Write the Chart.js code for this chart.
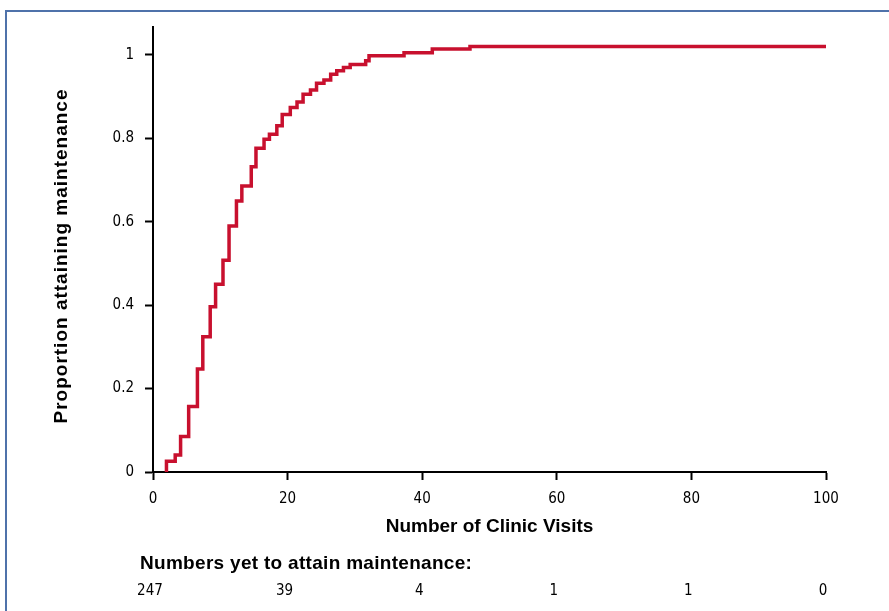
<!DOCTYPE html>
<html>
<head>
<meta charset="utf-8">
<script src="https://cdn.jsdelivr.net/npm/chart.js@4/dist/chart.umd.min.js"></script>
<style>
  html, body { margin: 0; padding: 0; background: #ffffff; }
  #wrap { position: relative; width: 889px; height: 611px; }
  canvas { display: block; }
</style>
</head>
<body>
<div id="wrap"><canvas id="c" width="889" height="611"></canvas></div>
<script>
// ---- data ----
const visits = [2, 2, 3.3, 4.1, 5.3, 6.6, 7.4, 8.5, 9.3, 10.4, 11.3, 12.4, 13.2, 14.6, 15.3, 16.5, 17.3, 18.4, 19.2, 20.4, 21.4, 22.3, 23.4, 24.3, 25.4, 26.4, 27.3, 28.3, 29.3, 31.6, 32.1, 37.3, 41.5, 47.1, 100];
const proportion = [0, 0.026, 0.041, 0.085, 0.157, 0.247, 0.324, 0.396, 0.450, 0.508, 0.590, 0.650, 0.686, 0.732, 0.776, 0.798, 0.810, 0.830, 0.857, 0.874, 0.887, 0.906, 0.916, 0.932, 0.940, 0.954, 0.962, 0.970, 0.977, 0.986, 0.998, 1.005, 1.014, 1.020, 1.020];
const yTickValues = [0, 0.2, 0.4, 0.6, 0.8, 1];
const yTickLabels = ['0', '0.2', '0.4', '0.6', '0.8', '1'];
const xTickValues = [0, 20, 40, 60, 80, 100];
const xTickLabels = ['0', '20', '40', '60', '80', '100'];
const atRiskLabel = 'Numbers yet to attain maintenance:';
const atRiskCounts = ['247', '39', '4', '1', '1', '0'];
const xTitle = 'Number of Clinic Visits';
const yTitle = 'Proportion attaining maintenance';

const narrow = "'Liberation Sans Narrow', 'DejaVu Sans Condensed', 'Arial Narrow', sans-serif";
const boldFont = "'Liberation Sans', Arial, sans-serif";

const extras = {
  id: 'extras',
  beforeDraw(chart) {
    const ctx = chart.ctx;
    ctx.save();
    ctx.fillStyle = '#4f72aa';
    ctx.fillRect(5, 10, 884, 2);
    ctx.fillRect(5, 10, 2, 601);
    ctx.restore();
  },
  afterDraw(chart) {
    const ctx = chart.ctx;
    const xs = chart.scales.x;
    const area = chart.chartArea;
    ctx.save();
    ctx.fillStyle = '#000';
    ctx.textAlign = 'center';
    ctx.textBaseline = 'middle';
    ctx.font = 'bold 19px ' + boldFont;
    ctx.letterSpacing = '0px';
    ctx.fillText(xTitle, (area.left + area.right) / 2, 527);
    ctx.save();
    ctx.translate(62, 256);
    ctx.rotate(-Math.PI / 2);
    ctx.letterSpacing = '1px';
    ctx.fillText(yTitle, 0, 0);
    ctx.restore();
    ctx.textAlign = 'left';
    ctx.letterSpacing = '0.3px';
    ctx.fillText(atRiskLabel, 140, 564);
    ctx.letterSpacing = '0px';
    ctx.font = '15px ' + narrow;
    ctx.textAlign = 'center';
    xTickValues.forEach((v, i) => {
      ctx.fillText(atRiskCounts[i], xs.getPixelForValue(v) - 3, 591);
    });
    ctx.restore();
  }
};

new Chart(document.getElementById('c'), {
  type: 'line',
  data: {
    datasets: [{
      data: visits.map((v, i) => ({ x: v, y: proportion[i] })),
      borderColor: '#c8102e',
      borderWidth: 3.5,
      pointRadius: 0,
      fill: false,
      stepped: 'before',
      tension: 0
    }]
  },
  options: {
    responsive: false,
    animation: false,
    events: [],
    layout: { padding: { left: 52, right: 63, top: 27, bottom: 75 } },
    plugins: { legend: { display: false }, tooltip: { enabled: false } },
    scales: {
      x: {
        type: 'linear',
        min: 0, max: 100,
        afterBuildTicks: s => { s.ticks = xTickValues.map(v => ({ value: v })); },
        afterFit: s => { s.height = 64; },
        ticks: {
          callback: (v) => { const i = xTickValues.indexOf(v); return i >= 0 ? xTickLabels[i] : ''; },
          color: '#000',
          font: { family: narrow, size: 15 },
          padding: 10,
          maxRotation: 0
        },
        grid: { drawOnChartArea: false, drawTicks: true, tickLength: 8, color: '#000', tickWidth: 2 },
        border: { display: true, color: '#000', width: 2 }
      },
      y: {
        type: 'linear',
        min: 0, max: 1.067,
        afterBuildTicks: s => { s.ticks = yTickValues.map(v => ({ value: v })); },
        afterFit: s => { s.width = 101; },
        ticks: {
          callback: (v) => { const i = yTickValues.indexOf(v); return i >= 0 ? yTickLabels[i] : ''; },
          color: '#000',
          font: { family: narrow, size: 15 },
          padding: 11
        },
        grid: { drawOnChartArea: false, drawTicks: true, tickLength: 8, color: '#000', tickWidth: 2 },
        border: { display: true, color: '#000', width: 2 }
      }
    }
  },
  plugins: [extras]
});
</script>
</body>
</html>
